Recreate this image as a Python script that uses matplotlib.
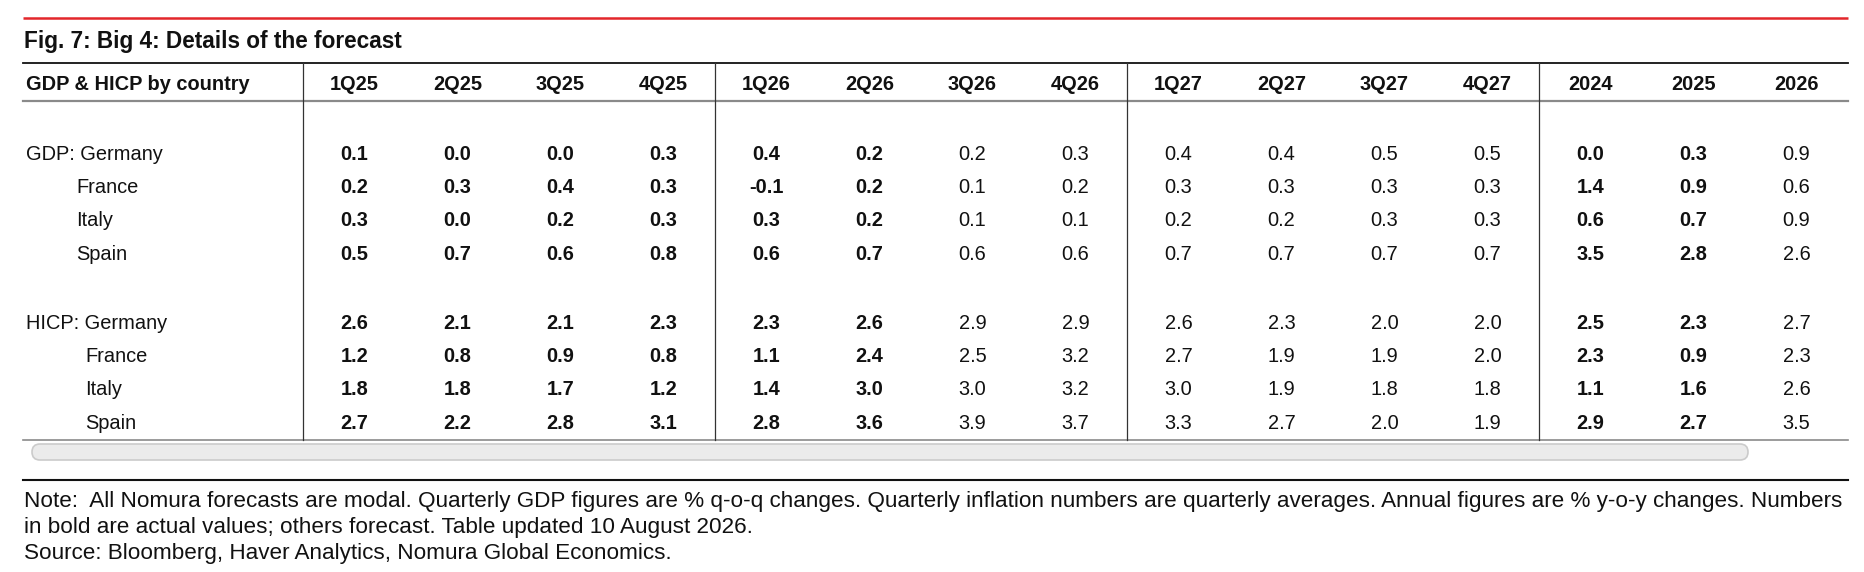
import matplotlib
matplotlib.use("Agg")
import matplotlib.pyplot as plt
from matplotlib.patches import FancyBboxPatch

plt.rcParams['font.family'] = ['Liberation Sans', 'DejaVu Sans']

title = "Fig. 7: Big 4: Details of the forecast"
corner = "GDP & HICP by country"
periods = ["1Q25", "2Q25", "3Q25", "4Q25", "1Q26", "2Q26", "3Q26", "4Q26",
           "1Q27", "2Q27", "3Q27", "4Q27", "2024", "2025", "2026"]
# columns printed in bold (actual values)
actual = [True, True, True, True, True, True, False, False,
          False, False, False, False, True, True, False]

gdp_labels = ["GDP: Germany", "France", "Italy", "Spain"]
gdp_germany = [0.1, 0.0, 0.0, 0.3, 0.4, 0.2, 0.2, 0.3, 0.4, 0.4, 0.5, 0.5, 0.0, 0.3, 0.9]
gdp_france = [0.2, 0.3, 0.4, 0.3, -0.1, 0.2, 0.1, 0.2, 0.3, 0.3, 0.3, 0.3, 1.4, 0.9, 0.6]
gdp_italy = [0.3, 0.0, 0.2, 0.3, 0.3, 0.2, 0.1, 0.1, 0.2, 0.2, 0.3, 0.3, 0.6, 0.7, 0.9]
gdp_spain = [0.5, 0.7, 0.6, 0.8, 0.6, 0.7, 0.6, 0.6, 0.7, 0.7, 0.7, 0.7, 3.5, 2.8, 2.6]

hicp_labels = ["HICP: Germany", "France", "Italy", "Spain"]
hicp_germany = [2.6, 2.1, 2.1, 2.3, 2.3, 2.6, 2.9, 2.9, 2.6, 2.3, 2.0, 2.0, 2.5, 2.3, 2.7]
hicp_france = [1.2, 0.8, 0.9, 0.8, 1.1, 2.4, 2.5, 3.2, 2.7, 1.9, 1.9, 2.0, 2.3, 0.9, 2.3]
hicp_italy = [1.8, 1.8, 1.7, 1.2, 1.4, 3.0, 3.0, 3.2, 3.0, 1.9, 1.8, 1.8, 1.1, 1.6, 2.6]
hicp_spain = [2.7, 2.2, 2.8, 3.1, 2.8, 3.6, 3.9, 3.7, 3.3, 2.7, 2.0, 1.9, 2.9, 2.7, 3.5]

note_lines = [
    "Note:  All Nomura forecasts are modal. Quarterly GDP figures are % q-o-q changes. "
    "Quarterly inflation numbers are quarterly averages. Annual figures are % y-o-y changes. Numbers",
    "in bold are actual values; others forecast. Table updated 10 August 2026.",
    "Source: Bloomberg, Haver Analytics, Nomura Global Economics.",
]

W, H = 1865, 572
fig = plt.figure(figsize=(W / 100, H / 100), dpi=100)
ax = fig.add_axes([0, 0, 1, 1])
ax.set_xlim(0, W)
ax.set_ylim(H, 0)
ax.axis('off')

left, right = 23, 1848
label_w = 280
col_w = (right - left - label_w) / len(periods)
col_x = [left + label_w + col_w * (i + 0.5) for i in range(len(periods))]
fs = 14.4
txt = '#111111'

# red rule and title
ax.plot([left, right], [18, 18], color='#e3262b', lw=1.8, solid_capstyle='butt')
ax.text(left + 1, 48, title, fontsize=16.3, fontweight='bold', color=txt, va='baseline')

# table rules
top_y, head_y, bot_y = 63, 101, 440
ax.plot([left, right], [top_y, top_y], color='#111111', lw=1.3)
ax.plot([left, right], [head_y, head_y], color='#8a8a8a', lw=1.6)
ax.plot([left, right], [bot_y, bot_y], color='#8a8a8a', lw=1.2)
for g in [0, 4, 8, 12]:
    xv = left + label_w + col_w * g
    ax.plot([xv, xv], [top_y, bot_y], color='#333333', lw=0.9)

# header
ax.text(left + 3, 90, corner, fontsize=fs, fontweight='bold', color=txt, va='baseline')
for x, p in zip(col_x, periods):
    ax.text(x, 90, p, fontsize=fs, fontweight='bold', color=txt, ha='center', va='baseline')

blocks = [
    (gdp_labels, [gdp_germany, gdp_france, gdp_italy, gdp_spain], [152.5, 186, 219.5, 252.5], 76),
    (hicp_labels, [hicp_germany, hicp_france, hicp_italy, hicp_spain], [322, 355, 388, 422], 85),
]
for labels, rows, ys, indent in blocks:
    for k, (lab, vals, y) in enumerate(zip(labels, rows, ys)):
        lx = left + 3 if k == 0 else indent
        ax.text(lx, y + 7, lab, fontsize=fs, color=txt, va='baseline')
        for x, v, b in zip(col_x, vals, actual):
            ax.text(x, y + 7, f"{v:.1f}", fontsize=fs, color=txt, ha='center', va='baseline',
                    fontweight='bold' if b else 'normal')

# scrollbar
sb = FancyBboxPatch((left + 9, 444), 1757 - left - 18, 16,
                    boxstyle="round,pad=0,rounding_size=8",
                    facecolor='#ebebeb', edgecolor='#cbcbcb', lw=1.2)
ax.add_patch(sb)

# note
ax.plot([left, right], [480, 480], color='#111111', lw=1.5)
for i, line in enumerate(note_lines):
    ax.text(left + 1, 507.5 + 25.5 * i, line, fontsize=16.2, color=txt, va='baseline')

fig.savefig('out.png', dpi=100)
